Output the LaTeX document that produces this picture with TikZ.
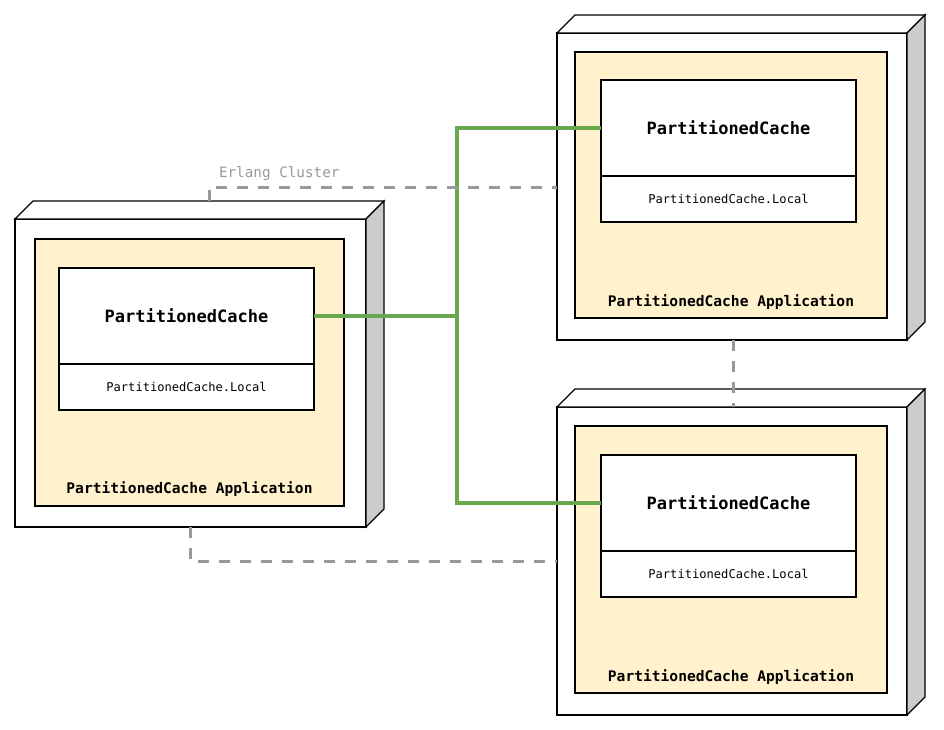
\documentclass[tikz,border=0pt]{standalone}
\usepackage{fontspec}
\setmonofont{DejaVu Sans Mono}
\begin{document}
\begin{tikzpicture}[x=1pt,y=-1pt,
  every node/.style={inner sep=0pt,outer sep=0pt},
  frontface/.style={draw=black,fill=white,line width=1.2pt,anchor=north west},
  topface/.style={draw=black,fill=white,line width=1.2pt,line join=miter},
  sideface/.style={draw=black,fill=sidegray,line width=1.2pt,line join=miter},
  appbox/.style={draw=black,fill=appyellow,line width=1.1pt,anchor=north west,
    minimum height=267pt},
  comphead/.style={draw=black,fill=white,line width=1.1pt,anchor=north west,
    minimum width=255pt,minimum height=96pt,
    font=\ttfamily\bfseries\fontsize{17}{20}\selectfont},
  compbody/.style={draw=black,fill=white,line width=1.1pt,anchor=north,
    minimum width=255pt,minimum height=46pt,
    font=\ttfamily\fontsize{12.1}{14}\selectfont},
  applabel/.style={font=\ttfamily\bfseries\fontsize{14.6}{17}\selectfont},
  wire/.style={draw=wiregreen,line width=3.6pt},
  cluster/.style={draw=clustergray,line width=3pt,dash pattern=on 11pt off 10pt},
]
\definecolor{appyellow}{HTML}{FFF2CC}
\definecolor{sidegray}{HTML}{CCCCCC}
\definecolor{wiregreen}{HTML}{6AA84F}
\definecolor{clustergray}{HTML}{999999}

\useasboundingbox (0,0) rectangle (944,730);

% front faces of the three machines
\node[frontface,minimum width=351pt,minimum height=308pt] (mA) at (15,219) {};
\node[frontface,minimum width=350pt,minimum height=307pt] (mB) at (557,33) {};
\node[frontface,minimum width=350pt,minimum height=308pt] (mC) at (557,407) {};

% top and side faces giving the boxes depth
\foreach \m in {mA,mB,mC}{
  \path[topface] (\m.north west) -- ++(18,-18) -- ([shift={(18,-18)}]\m.north east)
    -- (\m.north east) -- cycle;
  \path[sideface] (\m.north east) -- ++(18,-18) -- ([shift={(18,-18)}]\m.south east)
    -- (\m.south east) -- cycle;
}

% application containers
\node[appbox,minimum width=309pt] (appA) at (35,239) {};
\node[appbox,minimum width=312pt,minimum height=266pt] (appB) at (575,52) {};
\node[appbox,minimum width=312pt] (appC) at (575,426) {};

\node[applabel,anchor=base] (labA) at ([yshift=13pt]appA.south) {PartitionedCache Application};
\node[applabel,anchor=base] (labB) at ([yshift=12pt]appB.south) {PartitionedCache Application};
\node[applabel,anchor=base] (labC) at ([yshift=12pt]appC.south) {PartitionedCache Application};

% cache components
\node[comphead] (cA) at (59,268) {PartitionedCache};
\node[compbody] (lA) at (cA.south) {PartitionedCache.Local};
\node[comphead] (cB) at (601,80) {PartitionedCache};
\node[compbody] (lB) at (cB.south) {PartitionedCache.Local};
\node[comphead] (cC) at (601,455) {PartitionedCache};
\node[compbody] (lC) at (cC.south) {PartitionedCache.Local};

% links between the caches
\coordinate (hub) at (457,0);
\draw[wire] (cA.east) -- (hub |- cA.east) |- (cB.west);
\draw[wire] (hub |- cA.east) |- (cC.west);

% erlang cluster membership
\coordinate (eA) at (209,201);
\coordinate (eTurn) at (209,187);
\draw[cluster] (eA) -- (eTurn) -- (eTurn -| mB.west);
\node[font=\ttfamily\fontsize{14.3}{17}\selectfont,text=clustergray,anchor=base west]
  (ec) at (219,178) {Erlang Cluster};

\coordinate (dA) at (190,527);
\coordinate (dTurn) at (190,561);
\draw[cluster] (dA) -- (dTurn) -- (dTurn -| mC.west);

\coordinate (bB) at (733,340);
\draw[cluster] (bB) -- (bB |- mC.north);
\end{tikzpicture}
\end{document}
